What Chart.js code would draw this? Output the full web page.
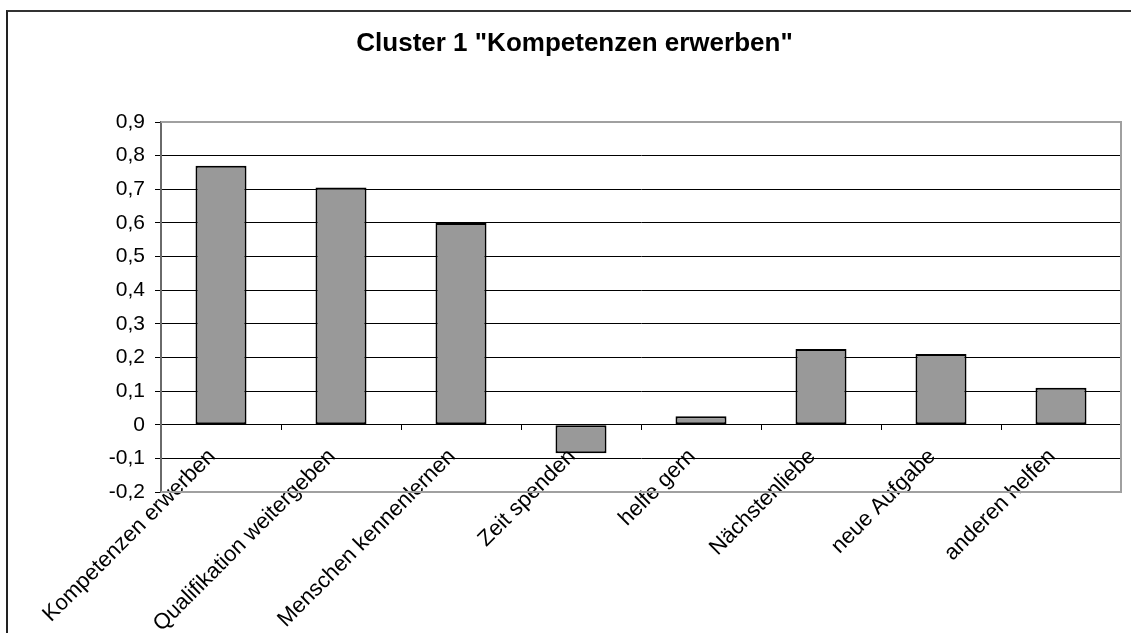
<!DOCTYPE html>
<html>
<head>
<meta charset="utf-8">
<script src="https://cdn.jsdelivr.net/npm/chart.js@4/dist/chart.umd.min.js"></script>
<style>
  html, body { margin: 0; padding: 0; background: #fff; overflow: hidden; }
  #frame {
    position: absolute; left: 6px; top: 10px; width: 2000px; height: 2000px;
    border-top: 2px solid #333; border-left: 2px solid #222;
  }
  #wrap { position: absolute; left: 0; top: 0; width: 1131px; height: 633px; }
</style>
</head>
<body>
<div id="frame"></div>
<div id="wrap"><canvas id="chart" width="1131" height="633"></canvas></div>
<script>
// values
const categories = [
  'Kompetenzen erwerben',
  'Qualifikation weitergeben',
  'Menschen kennenlernen',
  'Zeit spenden',
  'helfe gern',
  'Nächstenliebe',
  'neue Aufgabe',
  'anderen helfen'
]
const values = [0.77, 0.705, 0.60, -0.085, 0.025, 0.225, 0.21, 0.11]
const yTickLabels = ['-0,2', '-0,1', '0', '0,1', '0,2', '0,3', '0,4', '0,5', '0,6', '0,7', '0,8', '0,9']
const chartTitle = 'Cluster 1 "Kompetenzen erwerben"'

Chart.defaults.font.family = '"Liberation Sans", Arial, sans-serif'
Chart.defaults.color = '#000'

// grey frame round the plot area (top, right, bottom)
const plotFrame = {
  id: 'plotFrame',
  beforeDatasetsDraw(chart) {
    const { ctx, chartArea: a } = chart
    ctx.save()
    ctx.strokeStyle = '#a0a0a0'
    ctx.lineWidth = 2
    ctx.beginPath()
    ctx.moveTo(a.left, a.top)
    ctx.lineTo(a.right, a.top)
    ctx.lineTo(a.right, a.bottom)
    ctx.lineTo(a.left, a.bottom)
    ctx.stroke()
    ctx.restore()
  }
}

const ctx = document.getElementById('chart').getContext('2d')
new Chart(ctx, {
  type: 'bar',
  data: {
    labels: categories,
    datasets: [{
      data: values,
      backgroundColor: '#999999',
      borderColor: '#000',
      borderWidth: 2,
      borderSkipped: false,
      barPercentage: 0.425,
      categoryPercentage: 1
    }]
  },
  options: {
    responsive: false,
    animation: false,
    // x axis sits on the zero line, so the bottom padding sets the plot bottom
    layout: { padding: { left: 28, right: 10, top: 0, bottom: 141 } },
    plugins: {
      legend: { display: false },
      tooltip: { enabled: false },
      title: {
        display: true,
        text: chartTitle,
        color: '#000',
        font: { size: 26, weight: 'bold' },
        padding: { top: 28, bottom: 62.8 }
      }
    },
    scales: {
      x: {
        position: { y: 0 },
        grid: { drawOnChartArea: false, drawTicks: true, tickLength: 5, color: '#000', offset: true },
        border: { display: true, color: '#000', width: 1 },
        ticks: {
          autoSkip: false,
          minRotation: 45,
          maxRotation: 45,
          padding: 14,
          labelOffset: -9,
          font: { size: 22 },
          color: '#000'
        }
      },
      y: {
        min: -0.2,
        max: 0.9,
        afterFit: (scale) => { scale.width = 133 },
        grid: {
          color: (c) => (c.index === 0 || c.index === yTickLabels.length - 1) ? 'rgba(0,0,0,0)' : '#000',
          tickColor: '#000',
          tickLength: 6,
          lineWidth: 1
        },
        border: { display: true, color: '#6a6a6a', width: 2 },
        ticks: {
          stepSize: 0.1,
          padding: 10,
          font: { size: 21 },
          color: '#000',
          callback: (value, index) => yTickLabels[index]
        }
      }
    }
  },
  plugins: [plotFrame]
})
</script>
</body>
</html>
